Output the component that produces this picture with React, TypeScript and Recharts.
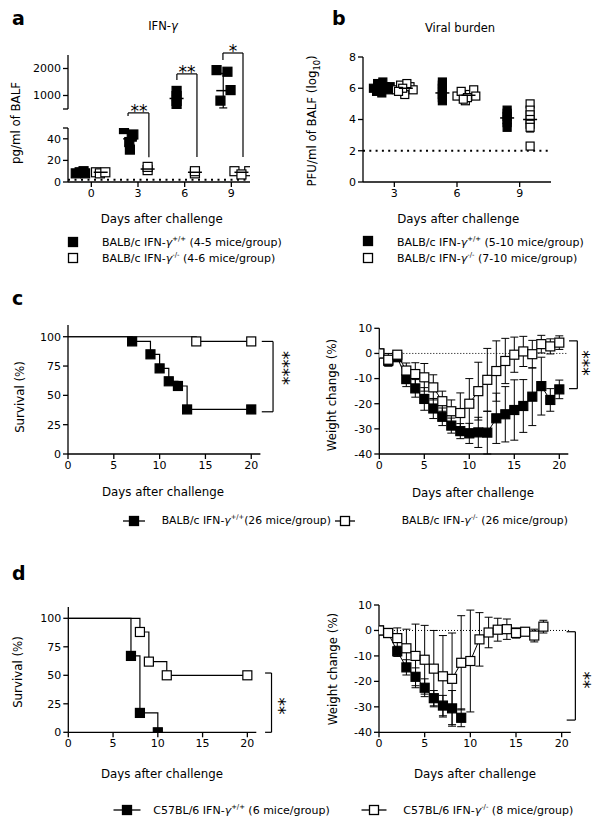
import React from 'react';
import { ScatterChart, Scatter, LineChart, Line, XAxis, YAxis, ErrorBar, ReferenceLine } from 'recharts';

const FONT = '"DejaVu Sans", Verdana, sans-serif';

// ---- a: IFN-γ in BALF (pg/ml); x = day + jitter inside the group ----
const aTicksX = [0, 3, 6, 9];
const aWtLow = [
  { x: -1.0, y: 8 }, { x: -0.75, y: 9 }, { x: -0.5, y: 10 }, { x: -0.4, y: 8 },
  { x: 2.1, y: 49 }, { x: 2.6, y: 42 }, { x: 2.44, y: 37 }, { x: 2.48, y: 30 }, { x: 2.7, y: 44 },
];
const aKoLow = [
  { x: 0.3, y: 9 }, { x: 0.55, y: 8 }, { x: 0.9, y: 9 },
  { x: 3.62, y: 11 }, { x: 3.62, y: 14 },
  { x: 6.66, y: 8 }, { x: 6.66, y: 10 },
  { x: 9.2, y: 10 }, { x: 10.15, y: 10 }, { x: 9.65, y: 7 },
];
const aMeanLow = [
  { x: -0.6, y: 9, e: 1 }, { x: 0.6, y: 9, e: 0.5 }, { x: 2.5, y: 40, e: 7 },
  { x: 3.62, y: 12, e: 1.5 }, { x: 6.66, y: 9, e: 1 }, { x: 9.65, y: 9, e: 1 },
];
const aWtHigh = [
  { x: 5.48, y: 1170 }, { x: 5.48, y: 980 }, { x: 5.48, y: 800 }, { x: 5.48, y: 620 },
  { x: 8.05, y: 1940 }, { x: 8.75, y: 1880 }, { x: 8.95, y: 1200 }, { x: 8.3, y: 810 },
];
const aMeanHigh = [{ x: 5.48, y: 890, e: 250 }, { x: 8.48, y: 1180, e: 640 }];

// ---- b: viral burden (log10 PFU/ml) ----
const bTicksX = [3, 6, 9];
const bWt = [
  { x: 2.0, y: 6.0 }, { x: 2.15, y: 5.8 }, { x: 2.3, y: 6.2 }, { x: 2.45, y: 6.4 }, { x: 2.55, y: 6.1 },
  { x: 2.7, y: 5.9 }, { x: 2.4, y: 5.7 }, { x: 2.2, y: 6.3 }, { x: 2.6, y: 6.0 }, { x: 2.8, y: 6.1 },
  { x: 5.3, y: 6.4 }, { x: 5.3, y: 6.2 }, { x: 5.3, y: 6.0 }, { x: 5.3, y: 5.8 }, { x: 5.3, y: 5.6 },
  { x: 5.3, y: 5.4 }, { x: 5.3, y: 5.2 },
  { x: 8.4, y: 3.5 }, { x: 8.4, y: 3.8 }, { x: 8.4, y: 4.0 }, { x: 8.4, y: 4.2 }, { x: 8.4, y: 4.4 }, { x: 8.4, y: 4.6 },
];
const bKo = [
  { x: 3.1, y: 5.9 }, { x: 3.3, y: 6.2 }, { x: 3.5, y: 5.6 }, { x: 3.75, y: 6.1 }, { x: 3.9, y: 5.9 },
  { x: 3.6, y: 6.3 }, { x: 3.4, y: 6.0 }, { x: 3.2, y: 5.8 },
  { x: 6.0, y: 5.5 }, { x: 6.2, y: 5.8 }, { x: 6.4, y: 5.2 }, { x: 6.6, y: 5.6 }, { x: 6.8, y: 5.9 },
  { x: 6.5, y: 5.4 }, { x: 6.9, y: 5.5 }, { x: 6.3, y: 5.3 },
  { x: 9.5, y: 5.0 }, { x: 9.5, y: 4.6 }, { x: 9.5, y: 4.3 }, { x: 9.5, y: 4.0 }, { x: 9.5, y: 3.7 },
  { x: 9.5, y: 3.5 }, { x: 9.5, y: 2.3 },
];
const bMeans = [
  { x: 2.4, y: 6.0, e: 0.2 }, { x: 3.55, y: 6.0, e: 0.2 }, { x: 5.3, y: 5.7, e: 0.4 },
  { x: 6.55, y: 5.55, e: 0.3 }, { x: 8.4, y: 4.1, e: 0.4 }, { x: 9.5, y: 4.0, e: 0.8 },
];

// ---- c: BALB/c survival and weight ----
const survTicksX = [0, 5, 10, 15, 20];
const survTicksY = [0, 25, 50, 75, 100];
const wTicksY = [-40, -30, -20, -10, 0, 10];
const cKmWt = [
  { x: 0, y: 100 }, { x: 7, y: 96 }, { x: 9, y: 85 }, { x: 10, y: 73 },
  { x: 11, y: 62 }, { x: 12, y: 58 }, { x: 13, y: 38 }, { x: 20, y: 38 },
];
const cKmKo = [{ x: 0, y: 100 }, { x: 14, y: 96 }, { x: 20, y: 96 }];
const cDays = [0, 1, 2, 3, 4, 5, 6, 7, 8, 9, 10, 11, 12, 13, 14, 15, 16, 17, 18, 19, 20];
const cWtW = [0, -3, -1.5, -10.2, -13.9, -18.1, -21.9, -25.2, -28.7, -30.9, -31.8, -31.4, -31.5, -25.8, -24.2, -22.5, -20.9, -17.2, -13, -18.5, -14.3];
const cWtSd = [0, 2, 1.5, 3, 3.5, 4.5, 4, 3.5, 3, 3, 4, 6, 8.5, 10, 11, 12, 10.5, 11.5, 11.5, 4.5, 3.7];
const cKoW = [0, -2.5, -0.5, -6.8, -8.2, -9.5, -13.5, -19, -23, -23.7, -20, -15, -10.5, -7, -3, -0.5, 0.8, -0.3, 3.7, 2.8, 4.3];
const cKoSd = [0, 2.5, 1.5, 3, 4.5, 5.5, 5, 4, 4.5, 8, 10, 11.5, 12.5, 12, 9, 7, 6, 5.5, 3.5, 3, 2.7];

// ---- d: C57BL/6 survival and weight ----
const dKmWt = [{ x: 0, y: 100 }, { x: 7, y: 67 }, { x: 8, y: 17 }, { x: 10, y: 0 }];
const dKmKo = [{ x: 0, y: 100 }, { x: 8, y: 88 }, { x: 9, y: 62 }, { x: 11, y: 50 }, { x: 20, y: 50 }];
const dWtDays = [0, 1, 2, 3, 4, 5, 6, 7, 8, 9];
const dWtW = [0, -1, -8.2, -14.5, -18.2, -22.5, -26.6, -29.5, -30.6, -34.3];
const dWtSd = [0, 1, 2, 3, 3.5, 3.5, 3, 4, 7, 3.5];
const dKoDays = [0, 1, 2, 3, 4, 5, 6, 7, 8, 9, 10, 11, 12, 13, 14, 15, 16, 17, 18];
const dKoW = [0, -1, -3, -7, -10, -11.5, -15, -18, -19, -12.7, -12, -3.5, -0.8, 0.3, 0.5, -1, -0.5, -2, 1.5];
const dKoSd = [0, 1, 4, 7.5, 12.5, 13.5, 15, 16, 18, 18.5, 20, 10.5, 6, 4.5, 4, 2, 1.5, 2.5, 2.5];

const toPts = (xs: number[], ys: number[], es: number[]) => xs.map((x, i) => ({ x, y: ys[i], sd: es[i] }));

const axisProps = {
  axisLine: { stroke: '#000', strokeWidth: 1.3 },
  tickLine: { stroke: '#000', strokeWidth: 1.3 },
  tick: { fill: '#000', fontSize: 11, fontFamily: FONT },
  tickSize: 5,
  tickMargin: 2,
  interval: 0 as const,
};

const squareShape = (fill: string, s = 9) => (p: any) => (
  <rect x={p.cx - s / 2} y={p.cy - s / 2} width={s} height={s} fill={fill} stroke="#000" strokeWidth={1.2} />
);
const meanShape = (p: any) => (
  <line x1={p.cx - 7} x2={p.cx + 7} y1={p.cy} y2={p.cy} stroke="#000" strokeWidth={1.5} />
);
const lineDot = (fill: string, skipFirst = false) => (p: any) => {
  if (skipFirst && p.index === 0) return <g key={`d${p.index}`} />;
  return (
    <rect key={`d${p.index}`} x={p.cx - 4.5} y={p.cy - 4.5} width={9} height={9}
      fill={fill} stroke="#000" strokeWidth={1.2} />
  );
};

const seg = (k: string, x1: number, y1: number, x2: number, y2: number) => (
  <ReferenceLine key={k} segment={[{ x: x1, y: y1 }, { x: x2, y: y2 }]}
    stroke="#000" strokeWidth={1.2} ifOverflow="visible" />
);
// side bracket used on survival/weight panels
const sideBracket = (k: string, xIn: number, xOut: number, yTop: number, yBot: number) => [
  seg(k + 't', xIn, yTop, xOut, yTop),
  seg(k + 'v', xOut, yTop, xOut, yBot),
  seg(k + 'b', xOut, yBot, xIn, yBot),
];
// top bracket used on panel a
const topBracket = (k: string, xl: number, xr: number, yTop: number, yL: number, yR: number) => [
  seg(k + 'h', xl, yTop, xr, yTop),
  seg(k + 'l', xl, yTop, xl, yL),
  seg(k + 'r', xr, yTop, xr, yR),
];

const Box = ({ x, y, w, h, children }: any) => (
  <div style={{ position: 'absolute', left: x, top: y, width: w, height: h }}>{children}</div>
);

const Txt = ({ x, y, size = 11.8, rot = 0, left = false, children }: any) => (
  <div style={{
    position: 'absolute', left: x, top: y, fontSize: size, lineHeight: 1, fontFamily: FONT,
    whiteSpace: 'nowrap', color: '#000',
    transform: `translate(${left ? '0' : '-50%'}, -50%) rotate(${rot}deg)`,
  }}>{children}</div>
);

const Letter = ({ x, base, children }: any) => (
  <div style={{ position: 'absolute', left: x, top: base - 16, fontSize: 19, fontWeight: 'bold', lineHeight: 1, fontFamily: FONT }}>
    {children}
  </div>
);

const Sup = ({ children }: any) => (
  <span style={{ fontSize: '0.62em', position: 'relative', top: '-0.7em' }}>{children}</span>
);
const Ifn = ({ sup }: any) => (<>IFN-<i>γ</i><Sup>{sup}</Sup></>);

const LegSym = ({ x, y, fill, line = 0 }: any) => (
  <svg style={{ position: 'absolute', left: x - 16, top: y - 8 }} width={32} height={16}>
    {line ? <line x1={16 - line / 2} x2={16 + line / 2} y1={8} y2={8} stroke="#000" strokeWidth={1.3} /> : null}
    <rect x={11.5} y={3.5} width={9} height={9} fill={fill} stroke="#000" strokeWidth={1.3} />
  </svg>
);

export default function App() {
  return (
    <div style={{ position: 'absolute', left: 0, top: 0, width: 602, height: 827, background: '#fff', fontFamily: FONT }}>
      {/* ---------- a ---------- */}
      <Letter x={12} base={25}>a</Letter>
      <Txt x={163} y={26.7} size={11.5}>IFN-<i>γ</i></Txt>
      <Box x={0} y={40} w={300} h={200}>
        <ScatterChart width={300} height={200} margin={{ top: 88, right: 50, bottom: 28, left: 28 }}>
          <XAxis type="number" dataKey="x" domain={[-1.5, 10.2]} ticks={aTicksX} allowDataOverflow height={30} {...axisProps} />
          <YAxis type="number" dataKey="y" domain={[0, 50]} ticks={[0, 20, 40, 50]} width={40}
            tickFormatter={(v: number) => (v === 50 ? '' : String(v))} allowDataOverflow {...axisProps} />
          <ReferenceLine y={2} stroke="#000" strokeWidth={2} strokeDasharray="2 4.5" ifOverflow="visible" />
          <Scatter data={aWtLow} shape={squareShape('#000')} isAnimationActive={false} />
          <Scatter data={aKoLow} shape={squareShape('#fff')} isAnimationActive={false} />
          <Scatter data={aMeanLow} shape={meanShape} isAnimationActive={false}>
            <ErrorBar dataKey="e" direction="y" width={4} stroke="#000" strokeWidth={1.2} />
          </Scatter>
          {topBracket('a3', 2.36, 3.7, 64, 61, 23)}
        </ScatterChart>
      </Box>
      <Box x={0} y={40} w={300} h={200}>
        <ScatterChart width={300} height={200} margin={{ top: 15, right: 50, bottom: 131, left: 28 }}>
          <XAxis type="number" dataKey="x" domain={[-1.5, 10.2]} hide allowDataOverflow />
          <YAxis type="number" dataKey="y" domain={[500, 2500]} ticks={[500, 1000, 2000]} width={40}
            tickFormatter={(v: number) => (v === 500 ? '' : String(v))} allowDataOverflow {...axisProps} />
          <Scatter data={aWtHigh} shape={squareShape('#000')} isAnimationActive={false} />
          <Scatter data={aMeanHigh} shape={meanShape} isAnimationActive={false}>
            <ErrorBar dataKey="e" direction="y" width={4} stroke="#000" strokeWidth={1.2} />
          </Scatter>
          {topBracket('a6', 5.5, 6.79, 1800, 1575, -1278)}
          {topBracket('a9', 8.46, 9.75, 2574, 2315, -1278)}
        </ScatterChart>
      </Box>
      <Txt x={139} y={110.6} size={17}>**</Txt>
      <Txt x={187} y={71.6} size={17}>**</Txt>
      <Txt x={233} y={50.6} size={17}>*</Txt>
      <Txt x={16.6} y={123} rot={-90}>pg/ml of BALF</Txt>
      <Txt x={161.7} y={219.5}>Days after challenge</Txt>
      <LegSym x={73.3} y={241.5} fill="#000" />
      <LegSym x={73.3} y={258.3} fill="#fff" />
      <Txt x={102} y={242} size={11} left>BALB/c <Ifn sup="+/+" /> (4-5 mice/group)</Txt>
      <Txt x={102} y={258} size={11} left>BALB/c <Ifn sup="-/-" />  (4-6 mice/group)</Txt>

      {/* ---------- b ---------- */}
      <Letter x={332} base={25}>b</Letter>
      <Txt x={460} y={29.3} size={11.5}>Viral burden</Txt>
      <Box x={300} y={40} w={302} h={200}>
        <ScatterChart width={302} height={200} margin={{ top: 17, right: 51, bottom: 28, left: 23 }}>
          <XAxis type="number" dataKey="x" domain={[1.5, 10.5]} ticks={bTicksX} allowDataOverflow height={30} {...axisProps} />
          <YAxis type="number" dataKey="y" domain={[0, 8]} ticks={[0, 2, 4, 6, 8]} width={40} allowDataOverflow {...axisProps} />
          <ReferenceLine y={2} stroke="#000" strokeWidth={2} strokeDasharray="2 4.3" />
          <Scatter data={bWt} shape={squareShape('#000', 8)} isAnimationActive={false} />
          <Scatter data={bKo} shape={squareShape('#fff', 8)} isAnimationActive={false} />
          <Scatter data={bMeans} shape={meanShape} isAnimationActive={false}>
            <ErrorBar dataKey="e" direction="y" width={4} stroke="#000" strokeWidth={1.2} />
          </Scatter>
        </ScatterChart>
      </Box>
      <Txt x={314.2} y={120.6} rot={-90}>PFU/ml of BALF (log<sub style={{ fontSize: '0.7em' }}>10</sub>)</Txt>
      <Txt x={458.3} y={219.5}>Days after challenge</Txt>
      <LegSym x={368.3} y={240.5} fill="#000" />
      <LegSym x={368.3} y={258.3} fill="#fff" />
      <Txt x={397} y={242} size={11} left>BALB/c <Ifn sup="+/+" /> (5-10 mice/group)</Txt>
      <Txt x={397} y={258} size={11} left>BALB/c <Ifn sup="-/-" /> (7-10 mice/group)</Txt>

      {/* ---------- c ---------- */}
      <Letter x={12} base={305}>c</Letter>
      <Box x={0} y={310} w={300} h={180}>
        <LineChart width={300} height={180} margin={{ top: 15, right: 39.6, bottom: 6, left: 28 }}>
          <XAxis type="number" dataKey="x" domain={[0, 21]} ticks={survTicksX} allowDataOverflow height={30} {...axisProps} />
          <YAxis type="number" domain={[0, 110]} ticks={survTicksY} width={40} allowDataOverflow {...axisProps} />
          <Line data={cKmWt} dataKey="y" type="stepAfter" stroke="#000" strokeWidth={1.2} dot={lineDot('#000', true)} isAnimationActive={false} />
          <Line data={cKmKo} dataKey="y" type="stepAfter" stroke="#000" strokeWidth={1.2} dot={lineDot('#fff', true)} isAnimationActive={false} />
          {sideBracket('c1', 21.15, 22.38, 96, 36)}
        </LineChart>
      </Box>
      <Txt x={282.4} y={368} size={17} rot={90}>****</Txt>
      <Txt x={21} y={397} rot={-90}>Survival (%)</Txt>
      <Txt x={163} y={492.5}>Days after challenge</Txt>

      <Box x={300} y={310} w={302} h={180}>
        <LineChart width={302} height={180} margin={{ top: 18.3, right: 33.7, bottom: 6, left: 39.3 }}>
          <XAxis type="number" dataKey="x" domain={[0, 21]} ticks={survTicksX} allowDataOverflow height={30} {...axisProps} />
          <YAxis type="number" domain={[-40, 10]} ticks={wTicksY} width={40} allowDataOverflow {...axisProps} />
          <ReferenceLine y={0} stroke="#000" strokeWidth={1} strokeDasharray="1 2" />
          <Line data={toPts(cDays, cWtW, cWtSd)} dataKey="y" stroke="#000" strokeWidth={1} dot={lineDot('#000')} isAnimationActive={false}>
            <ErrorBar dataKey="sd" direction="y" width={4} stroke="#000" strokeWidth={1} />
          </Line>
          <Line data={toPts(cDays, cKoW, cKoSd)} dataKey="y" stroke="#000" strokeWidth={1} dot={lineDot('#fff')} isAnimationActive={false}>
            <ErrorBar dataKey="sd" direction="y" width={4} stroke="#000" strokeWidth={1} />
          </Line>
          {sideBracket('c2', 21.08, 22, 5, -14)}
        </LineChart>
      </Box>
      <Txt x={582.4} y={363} size={17} rot={90}>***</Txt>
      <Txt x={332.6} y={395} rot={-90}>Weight change (%)</Txt>
      <Txt x={473} y={494}>Days after challenge</Txt>

      <LegSym x={134} y={521} fill="#000" line={22} />
      <Txt x={161.7} y={521} size={10.8} left>BALB/c <Ifn sup="+/+" />(26 mice/group)</Txt>
      <LegSym x={345} y={521} fill="#fff" line={20} />
      <Txt x={401.7} y={521} size={10.8} left>BALB/c <Ifn sup="-/-" /> (26 mice/group)</Txt>

      {/* ---------- d ---------- */}
      <Letter x={12} base={580}>d</Letter>
      <Box x={0} y={590} w={300} h={190}>
        <LineChart width={300} height={190} margin={{ top: 16.9, right: 43.7, bottom: 17.7, left: 28.3 }}>
          <XAxis type="number" dataKey="x" domain={[0, 21]} ticks={survTicksX} allowDataOverflow height={30} {...axisProps} />
          <YAxis type="number" domain={[0, 110]} ticks={survTicksY} width={40} allowDataOverflow {...axisProps} />
          <Line data={dKmWt} dataKey="y" type="stepAfter" stroke="#000" strokeWidth={1.2} dot={lineDot('#000', true)} isAnimationActive={false} />
          <Line data={dKmKo} dataKey="y" type="stepAfter" stroke="#000" strokeWidth={1.2} dot={lineDot('#fff', true)} isAnimationActive={false} />
          {sideBracket('d1', 21.98, 22.7, 52, 0)}
        </LineChart>
      </Box>
      <Txt x={278.1} y={706} size={17} rot={90}>**</Txt>
      <Txt x={19} y={672} rot={-90}>Survival (%)</Txt>
      <Txt x={162} y={775}>Days after challenge</Txt>

      <Box x={300} y={590} w={302} h={190}>
        <LineChart width={302} height={190} margin={{ top: 15, right: 31.2, bottom: 17.7, left: 39 }}>
          <XAxis type="number" dataKey="x" domain={[0, 21]} ticks={survTicksX} allowDataOverflow height={30} {...axisProps} />
          <YAxis type="number" domain={[-40, 10]} ticks={wTicksY} width={40} allowDataOverflow {...axisProps} />
          <ReferenceLine y={0} stroke="#000" strokeWidth={1} strokeDasharray="1 2" />
          <Line data={toPts(dWtDays, dWtW, dWtSd)} dataKey="y" stroke="#000" strokeWidth={1} dot={lineDot('#000')} isAnimationActive={false}>
            <ErrorBar dataKey="sd" direction="y" width={4} stroke="#000" strokeWidth={1} />
          </Line>
          <Line data={toPts(dKoDays, dKoW, dKoSd)} dataKey="y" stroke="#000" strokeWidth={1} dot={lineDot('#fff')} isAnimationActive={false}>
            <ErrorBar dataKey="sd" direction="y" width={4} stroke="#000" strokeWidth={1} />
          </Line>
          {sideBracket('d2', 20.55, 21.5, -0.5, -35.2)}
        </LineChart>
      </Box>
      <Txt x={583.1} y={680} size={17} rot={90}>**</Txt>
      <Txt x={333.6} y={669} rot={-90}>Weight change (%)</Txt>
      <Txt x={475} y={775}>Days after challenge</Txt>

      <LegSym x={126.7} y={810} fill="#000" line={27} />
      <Txt x={153.3} y={810} size={11} left>C57BL/6 <Ifn sup="+/+" /> (6 mice/group)</Txt>
      <LegSym x={374} y={810} fill="#fff" line={25} />
      <Txt x={403.3} y={810} size={11} left>C57BL/6 <Ifn sup="-/-" /> (8 mice/group)</Txt>
    </div>
  );
}
